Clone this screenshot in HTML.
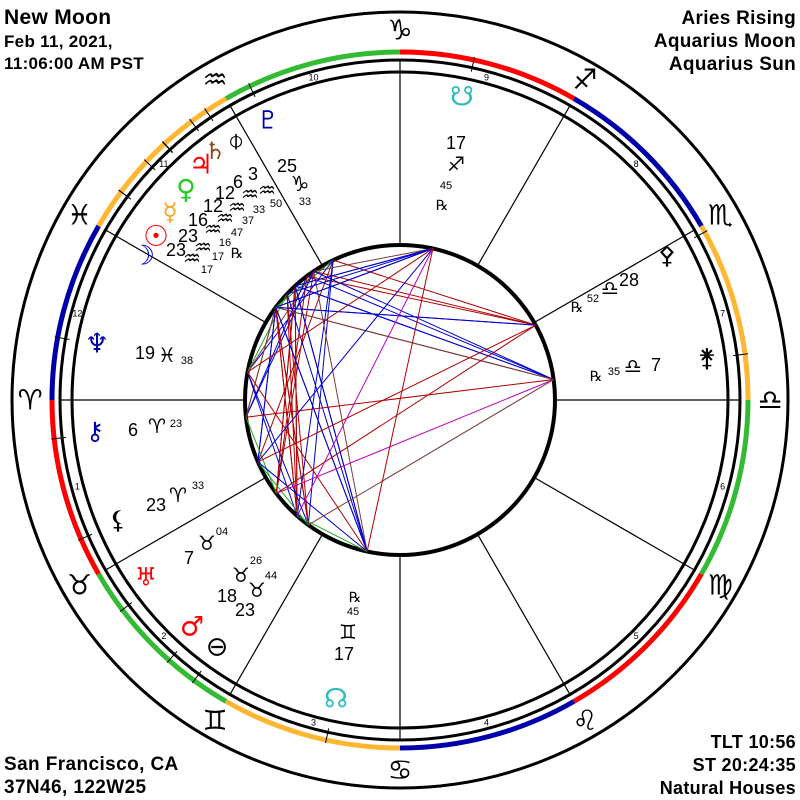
<!DOCTYPE html>
<html><head><meta charset="utf-8"><style>
html,body{margin:0;padding:0;background:#fff;width:800px;height:800px;overflow:hidden}
svg{display:block}
.h{font-family:"Liberation Sans",sans-serif;font-weight:bold;fill:#000}
.g{font-family:"DejaVu Sans",sans-serif;text-anchor:middle;dominant-baseline:central}
.n{font-family:"Liberation Sans",sans-serif;text-anchor:middle;dominant-baseline:central;fill:#000}
</style></head><body>
<svg id="s" width="800" height="800" viewBox="0 0 800 800" xmlns="http://www.w3.org/2000/svg">
<text class="h" x="4" y="24" font-size="21" letter-spacing="0.3">New Moon</text>
<text class="h" x="4" y="47" font-size="17" letter-spacing="0.3">Feb 11, 2021,</text>
<text class="h" x="4" y="69" font-size="17" letter-spacing="0.3">11:06:00 AM PST</text>
<text class="h" x="796" y="24" font-size="19" text-anchor="end" letter-spacing="0.3">Aries Rising</text>
<text class="h" x="796" y="47" font-size="19" text-anchor="end" letter-spacing="0.3">Aquarius Moon</text>
<text class="h" x="796" y="70" font-size="19" text-anchor="end" letter-spacing="0.3">Aquarius Sun</text>
<text class="h" x="4" y="770" font-size="19" letter-spacing="0.4">San Francisco, CA</text>
<text class="h" x="4" y="793" font-size="19" letter-spacing="0.4">37N46, 122W25</text>
<text class="h" x="796" y="748" font-size="18" text-anchor="end" letter-spacing="0.3">TLT 10:56</text>
<text class="h" x="796" y="771" font-size="18" text-anchor="end" letter-spacing="0.3">ST 20:24:35</text>
<text class="h" x="796" y="794" font-size="18" text-anchor="end" letter-spacing="0.3">Natural Houses</text>
<g id="chart"></g>
<g id="lab">
<text class="g" x="236" y="140" font-size="28" fill="#000">⌽</text>
<text class="g" x="215" y="151" font-size="24" fill="#8b4513">♄&#xFE0E;</text>
<text class="g" x="201" y="165" font-size="27" fill="#f00">♃&#xFE0E;</text>
<text class="g" x="186" y="190" font-size="27" fill="#2c2">♀&#xFE0E;</text>
<text class="g" x="170" y="212" font-size="25" fill="#f5a623">☿&#xFE0E;</text>
<text class="g" x="156" y="236" font-size="29" fill="#f00">☉&#xFE0E;</text>
<text class="g" x="143" y="256" font-size="27" fill="#00c">☽&#xFE0E;</text>
<text class="n" x="253" y="174" font-size="18">3</text>
<text class="n" x="238" y="182" font-size="18">6</text>
<text class="n" x="225" y="193" font-size="18">12</text>
<text class="n" x="213" y="206" font-size="18">12</text>
<text class="n" x="198" y="220" font-size="18">16</text>
<text class="n" x="188" y="236" font-size="18">23</text>
<text class="n" x="176" y="250" font-size="18">23</text>
<text class="g" x="267" y="190" font-size="20">♒&#xFE0E;</text>
<text class="g" x="250" y="194" font-size="20">♒&#xFE0E;</text>
<text class="g" x="237" y="207" font-size="20">♒&#xFE0E;</text>
<text class="g" x="225" y="218" font-size="20">♒&#xFE0E;</text>
<text class="g" x="213" y="229" font-size="20">♒&#xFE0E;</text>
<text class="g" x="203" y="247" font-size="20">♒&#xFE0E;</text>
<text class="g" x="192" y="258" font-size="20">♒&#xFE0E;</text>
<text class="n" x="276" y="204" font-size="11">50</text>
<text class="n" x="259" y="210" font-size="11">33</text>
<text class="n" x="248" y="221" font-size="11">37</text>
<text class="n" x="237" y="233" font-size="11">47</text>
<text class="n" x="225" y="243" font-size="11">16</text>
<text class="n" x="218" y="257" font-size="11">17</text>
<text class="n" x="207" y="270" font-size="11">17</text>
<text class="n" x="237" y="253" font-size="14">℞</text>
<text class="g" x="268" y="120" font-size="25" fill="#00a">♇&#xFE0E;</text>
<text class="n" x="287" y="166" font-size="18">25</text>
<text class="g" x="300" y="184" font-size="21">♑&#xFE0E;</text>
<text class="n" x="305" y="202" font-size="11">33</text>
<text class="g" x="462" y="97" font-size="27" fill="#3bb">☋&#xFE0E;</text>
<text class="n" x="456" y="143" font-size="18">17</text>
<text class="g" x="456" y="164" font-size="20">♐&#xFE0E;</text>
<text class="n" x="446" y="186" font-size="11">45</text>
<text class="n" x="442" y="205" font-size="14">℞</text>
<text class="g" x="667" y="255" font-size="25">⚴</text>
<text class="n" x="629" y="280" font-size="18">28</text>
<text class="g" x="610" y="288" font-size="20">♎&#xFE0E;</text>
<text class="n" x="593" y="299" font-size="11">52</text>
<text class="n" x="577" y="307" font-size="14">℞</text>
<text class="g" x="707" y="358" font-size="25">⚵</text>
<text class="n" x="656" y="365" font-size="18">7</text>
<text class="g" x="633" y="366" font-size="20">♎&#xFE0E;</text>
<text class="n" x="614" y="372" font-size="11">35</text>
<text class="n" x="596" y="376" font-size="14">℞</text>
<text class="g" x="97" y="344" font-size="27" fill="#00a">♆&#xFE0E;</text>
<text class="n" x="145" y="353" font-size="18">19</text>
<text class="g" x="167" y="355" font-size="20">♓&#xFE0E;</text>
<text class="n" x="187" y="361" font-size="11">38</text>
<text class="g" x="95" y="431" font-size="25" fill="#00a">⚷</text>
<text class="n" x="133" y="430" font-size="18">6</text>
<text class="g" x="157" y="426" font-size="20">♈&#xFE0E;</text>
<text class="n" x="176" y="424" font-size="11">23</text>
<text class="g" x="118" y="520" font-size="25">⚸</text>
<text class="n" x="156" y="505" font-size="18">23</text>
<text class="g" x="178" y="495" font-size="20">♈&#xFE0E;</text>
<text class="n" x="198" y="486" font-size="11">33</text>
<text class="g" x="146" y="577" font-size="25" fill="#f00">♅&#xFE0E;</text>
<text class="n" x="189" y="558" font-size="18">7</text>
<text class="g" x="207" y="543" font-size="20">♉&#xFE0E;</text>
<text class="n" x="222" y="532" font-size="11">04</text>
<text class="g" x="192" y="627" font-size="27" fill="#f00">♂&#xFE0E;</text>
<text class="g" x="217" y="647" font-size="27">⊖</text>
<text class="n" x="227" y="596" font-size="18">18</text>
<text class="g" x="241" y="575" font-size="20">♉&#xFE0E;</text>
<text class="n" x="256" y="561" font-size="11">26</text>
<text class="n" x="245" y="610" font-size="18">23</text>
<text class="g" x="257" y="590" font-size="20">♉&#xFE0E;</text>
<text class="n" x="271" y="576" font-size="11">44</text>
<text class="g" x="336" y="699" font-size="27" fill="#3bb">☊&#xFE0E;</text>
<text class="n" x="344" y="654" font-size="18">17</text>
<text class="g" x="348" y="632" font-size="20">♊&#xFE0E;</text>
<text class="n" x="353" y="612" font-size="11">45</text>
<text class="n" x="355" y="597" font-size="14">℞</text>
</g>
</svg>
<script>
(function(){
var NS="http://www.w3.org/2000/svg",g=document.getElementById('chart');
function el(t,a,txt){var e=document.createElementNS(NS,t);for(var k in a)e.setAttribute(k,a[k]);if(txt!=null)e.textContent=txt;g.appendChild(e);return e;}
var C=400;
function pt(L,r){var t=(180+L)*Math.PI/180;return [C+r*Math.cos(t),C-r*Math.sin(t)];}
var cols=['#f00','#33bb33','#ffb733','#0000aa'];
for(var i=0;i<12;i++){var a=pt(i*30,348),b=pt(i*30+30,348);
 el('path',{d:'M'+a[0]+' '+a[1]+' A348 348 0 0 0 '+b[0]+' '+b[1],fill:'none',stroke:cols[i%4],'stroke-width':5});}
el('circle',{cx:C,cy:C,r:388,fill:'none',stroke:'#000','stroke-width':3});
el('circle',{cx:C,cy:C,r:340,fill:'none',stroke:'#000','stroke-width':3});
el('circle',{cx:C,cy:C,r:328,fill:'none',stroke:'#000','stroke-width':3});
el('circle',{cx:C,cy:C,r:155,fill:'none',stroke:'#000','stroke-width':4});
for(var i=0;i<12;i++){var a=pt(i*30,155),b=pt(i*30,340);
 el('line',{x1:a[0],y1:a[1],x2:b[0],y2:b[1],stroke:'#000','stroke-width':1.2});
 var p=pt(i*30+15,334);el('text',{x:p[0],y:p[1],'font-size':9,'font-family':'Liberation Sans,sans-serif','text-anchor':'middle','dominant-baseline':'central'},String(i+1));
 var s=pt(i*30,370);el('text',{x:s[0],y:s[1],'font-size':28,'font-family':'DejaVu Sans,sans-serif','text-anchor':'middle','dominant-baseline':'central'},String.fromCodePoint(0x2648+i)+'\uFE0E');}
var P=[295.55,303.83,306.83,312.55,312.62,316.78,323.28,323.27,349.63,6.38,23.55,37.07,48.43,53.73,77.75,257.75,208.87,187.58];
P.forEach(function(L){var a=pt(L,336),b=pt(L,351);el('line',{x1:a[0],y1:a[1],x2:b[0],y2:b[1],stroke:'#000','stroke-width':1});});
var asp=[[30,3,'#22aa22'],[45,2,'#7a3b3b'],[60,6,'#0000cc'],[90,9,'#b00000'],[120,8,'#0000cc'],[135,2,'#7a3b3b'],[150,3,'#bb00bb'],[180,9,'#b00000']];
for(var i=0;i<P.length;i++)for(var j=i+1;j<P.length;j++){
 var d=Math.abs(P[i]-P[j]);if(d>180)d=360-d;
 for(var k=0;k<asp.length;k++){if(Math.abs(d-asp[k][0])<=asp[k][1]){var a=pt(P[i],155),b=pt(P[j],155);
  el('line',{x1:a[0],y1:a[1],x2:b[0],y2:b[1],stroke:asp[k][2],'stroke-width':1});break;}}}
})();
</script>
</body></html>
